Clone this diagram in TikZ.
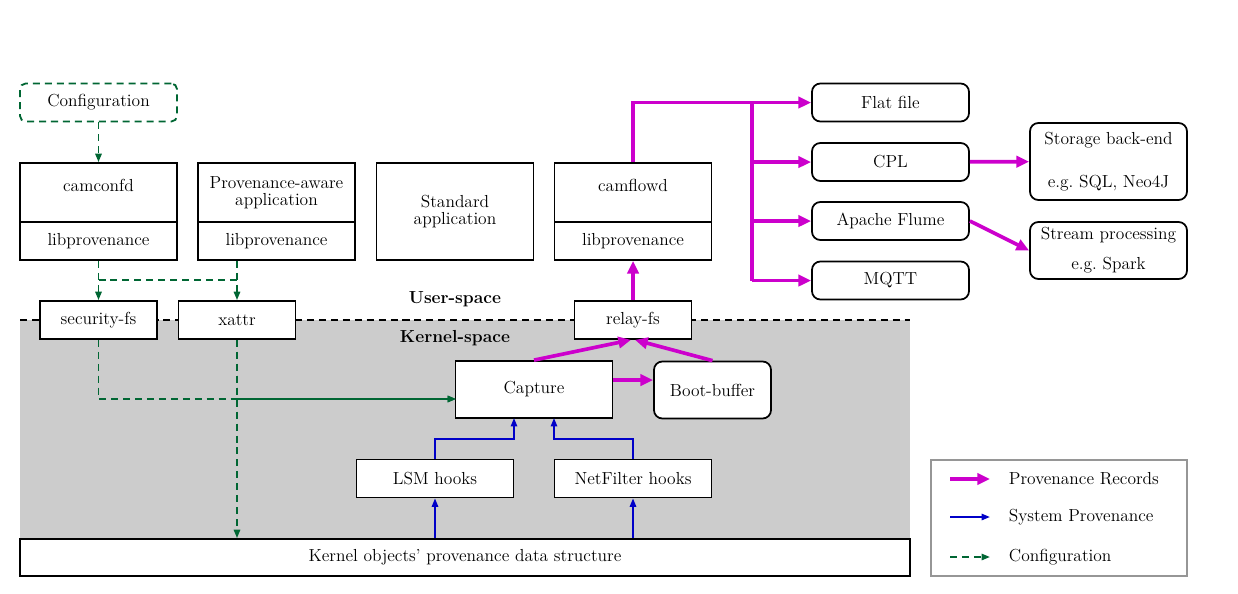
\documentclass[tikz,border=0pt]{standalone}
\usetikzlibrary{arrows.meta}
\definecolor{mag}{RGB}{204,0,204}
\definecolor{cfg}{RGB}{0,102,51}
\definecolor{sysb}{RGB}{0,0,200}
\definecolor{kgray}{RGB}{204,204,204}
\definecolor{lgray}{RGB}{150,150,150}
\begin{document}
\begin{tikzpicture}[x=0.025cm,y=-0.025cm,
  font=\fontsize{12.4}{14}\selectfont,
  box/.style={draw, line width=1.25pt, inner sep=0pt, minimum width=3.925cm, minimum height=0.95cm, align=center, fill=white},
  rbox/.style={box, rounded corners=6pt},
  prov/.style={draw=mag, line width=2.6pt, -{Triangle[length=9pt,width=8pt]}},
  provl/.style={draw=mag, line width=2.6pt},
  sysp/.style={draw=sysb, line width=1.3pt, -{Triangle[length=6pt,width=4.5pt]}},
  conf/.style={draw=cfg, line width=1.3pt, dash pattern=on 5pt off 3.5pt, -{Triangle[length=6pt,width=4.5pt]}},
  confl/.style={draw=cfg, line width=1.3pt, dash pattern=on 5pt off 3.5pt},
  lbl/.style={font=\fontsize{12.4}{14}\selectfont\bfseries}
]
\useasboundingbox (0,0) rectangle (1238,593);
% kernel area
\fill[kgray] (20,320) rectangle (910,539);
\draw[line width=1.1pt, dash pattern=on 5pt off 3.5pt] (20,320) -- (910,320);
\node[lbl] (us) at (455,299) {User-space};
\node[lbl] (ks) at (455,338) {Kernel-space};

% user space boxes
\node[box, rounded corners=4pt, draw=cfg, dash pattern=on 5pt off 3.5pt, line width=1.3pt] (config) at (98.5,102.5) {Configuration};
\node[box, minimum height=1.475cm, text height=1.1ex, text depth=0.24cm] (camconfd) at (98.5,192.5) {camconfd};
\node[box] (lib1) at (98.5,241) {libprovenance};
\node[box, minimum height=1.475cm, font=\fontsize{12.4}{12}\selectfont] (paa) at (276.5,192.5) {Provenance-aware\\application};
\node[box] (lib2) at (276.5,241) {libprovenance};
\node[box, minimum height=2.425cm, font=\fontsize{12.4}{12}\selectfont] (std) at (455,211.5) {Standard\\application};
\node[box, minimum height=1.475cm, text height=1.1ex, text depth=0.24cm] (camflowd) at (633,192.5) {camflowd};
\node[box] (lib3) at (633,241) {libprovenance};

\node[box, minimum width=2.925cm] (secfs) at (98.5,320) {security-fs};
\node[box, minimum width=2.925cm] (xattr) at (237,320) {xattr};
\node[box, minimum width=2.925cm] (relay) at (633,320) {relay-fs};

% kernel boxes
\node[box, minimum height=1.425cm] (capture) at (534,389.5) {Capture};
\node[rbox, minimum width=2.925cm, minimum height=1.425cm] (boot) at (712.5,390) {Boot-buffer};
\node[box] (lsm) at (435,478.5) {LSM hooks};
\node[box] (nf) at (633,478.5) {NetFilter hooks};
\node[box, minimum width=22.25cm, minimum height=0.925cm] (kobj) at (465,557.5) {Kernel objects' provenance data structure};

% outputs
\node[rbox] (flat) at (890.5,102.5) {Flat file};
\node[rbox] (cpl) at (890.5,162) {CPL};
\node[rbox] (flume) at (890.5,221) {Apache Flume};
\node[rbox] (mqtt) at (890.5,280.5) {MQTT};
\node[rbox, minimum height=1.925cm, font=\fontsize{12.4}{31}\selectfont] (store) at (1108.5,161.5) {Storage back-end\\e.g.\ SQL, Neo4J};
\node[rbox, minimum height=1.425cm, font=\fontsize{12.4}{21.5}\selectfont] (stream) at (1108.5,250.5) {Stream processing\\e.g.\ Spark};

% configuration connectors
\draw[conf] (config) -- (camconfd);
\draw[conf] (lib1) -- (secfs);
\coordinate (j1) at (98.5,280);
\coordinate (j2) at (237,280);
\draw[confl] (j1) -- (j2);
\draw[conf] (lib2.south -| xattr.north) -- (xattr);
\coordinate (capin) at (456,399);
\draw[conf] (secfs) |- (capin);
\draw[conf] (xattr) |- (capin);
\draw[conf] (xattr) -- (xattr |- kobj.north);

% provenance records
\draw[prov] (capture.east |- 0,380) -- (boot.west |- 0,380);
\draw[prov] (capture.north) -- ([xshift=-0.05cm]relay.south);
\draw[prov] (boot.north) -- ([xshift=0.05cm]relay.south);
\draw[prov] (relay) -- (lib3);
\coordinate (top) at (633,102.5);
\coordinate (br) at (752,102.5);
\draw[prov] (camflowd.north) -- (top) -- (flat.west);
\draw[provl] (br) -- (752,280.5);
\draw[prov] (752,162) -- (cpl.west);
\draw[prov] (752,221) -- (flume.west);
\draw[prov] (752,280.5) -- (mqtt.west);
\draw[prov] (cpl) -- (store);
\draw[prov] (flume.east) -- (stream.west);

% system provenance
\draw[sysp] (lsm.north) -- (435,439) -- (514,439) -- (514,418);
\draw[sysp] (nf.north) -- (633,439) -- (554,439) -- (554,418);
\draw[sysp] (kobj.north -| lsm) -- (lsm);
\draw[sysp] (kobj.north -| nf) -- (nf);

% legend
\node[draw=lgray, line width=1.3pt, minimum width=6.4cm, minimum height=2.9cm, inner sep=0pt] (legend) at (1059,518) {};
\coordinate (a1) at (950,479); \coordinate (b1) at (990,479);
\coordinate (a2) at (950,517); \coordinate (b2) at (990,517);
\coordinate (a3) at (950,557); \coordinate (b3) at (990,557);
\draw[prov] (a1) -- (b1);
\draw[sysp] (a2) -- (b2);
\draw[conf] (a3) -- (b3);
\node[anchor=west] (t1) at (1004,479) {Provenance Records};
\node[anchor=west] (t2) at (1004,517) {System Provenance};
\node[anchor=west] (t3) at (1004,557) {Configuration};
\end{tikzpicture}
\end{document}
